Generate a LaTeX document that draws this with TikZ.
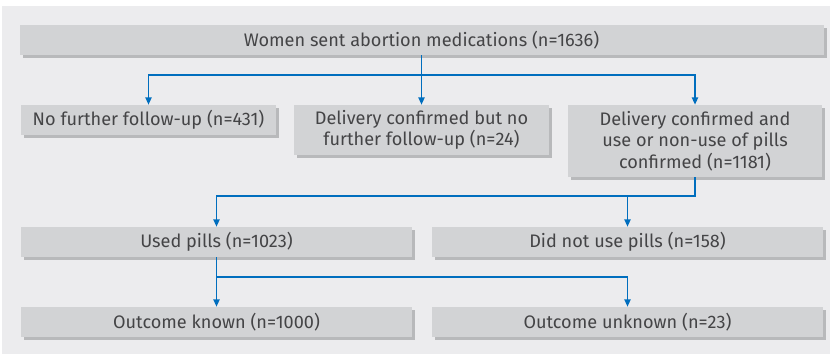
\documentclass[tikz,border=0pt]{standalone}
\usepackage{fontspec}
\setmainfont{Fira Sans}
\usetikzlibrary{arrows.meta,shadows}
\definecolor{bggray}{RGB}{236,236,238}
\definecolor{boxgray}{RGB}{210,211,213}
\definecolor{shgray}{RGB}{184,185,187}
\definecolor{txtgray}{RGB}{68,68,70}
\definecolor{arrblue}{RGB}{0,110,190}
\begin{document}
\begin{tikzpicture}[x=0.75pt,y=-0.75pt,
  boxnode/.style={fill=boxgray,draw=none,inner sep=0pt,text=txtgray,align=center,
    font=\fontsize{13.6}{16.25}\selectfont,
    drop shadow={shadow xshift=2.25pt,shadow yshift=-2.25pt,fill=shgray,opacity=1}},
  ln/.style={draw=arrblue,line width=1.2pt},
  arr/.style={ln,-{Triangle[length=5.5pt,width=4.6pt]}}]
\useasboundingbox (0,0) rectangle (830,354);
\fill[bggray] (2,6) rectangle (830,354);
% boxes
\node[boxnode,minimum width=603pt,minimum height=22.5pt] (top) at (421.5,40) {Women sent abortion medications (n=1636)};
\node[boxnode,minimum width=191.25pt,minimum height=22.5pt] (A) at (148.5,120) {No further follow-up (n=431)};
\node[boxnode,minimum width=191.25pt,minimum height=37.5pt] (B) at (421.5,130) {Delivery confirmed but no\\further follow-up (n=24)};
\node[boxnode,minimum width=190.5pt,minimum height=54pt] (C) at (695,141) {Delivery confirmed and\\use or non-use of pills\\confirmed (n=1181)};
\node[boxnode,minimum width=293.25pt,minimum height=22.5pt] (D) at (216.5,242) {Used pills (n=1023)};
\node[boxnode,minimum width=293.25pt,minimum height=22.5pt] (E) at (627.5,242) {Did not use pills (n=158)};
\node[boxnode,minimum width=293.25pt,minimum height=22.5pt] (F) at (216.5,322) {Outcome known (n=1000)};
\node[boxnode,minimum width=293.25pt,minimum height=22.5pt] (G) at (627.5,322) {Outcome unknown (n=23)};
% connectors
\path (top.south) ++(0,20) coordinate (j1);
\draw[ln] (top.south) -- (j1);
\draw[arr] (j1) -| (A.north);
\draw[arr] (j1) -- (B.north);
\draw[arr] (j1) -| (C.north);
\path (C.south) ++(0,19) coordinate (j2);
\draw[arr] (C.south) -- (j2) -| (D.north);
\draw[arr] (j2) -| (E.north);
\path (D.south) ++(0,20) coordinate (j3);
\draw[arr] (D.south) -- (j3) -- (F.north);
\draw[arr] (j3) -| (G.north);
\end{tikzpicture}
\end{document}
